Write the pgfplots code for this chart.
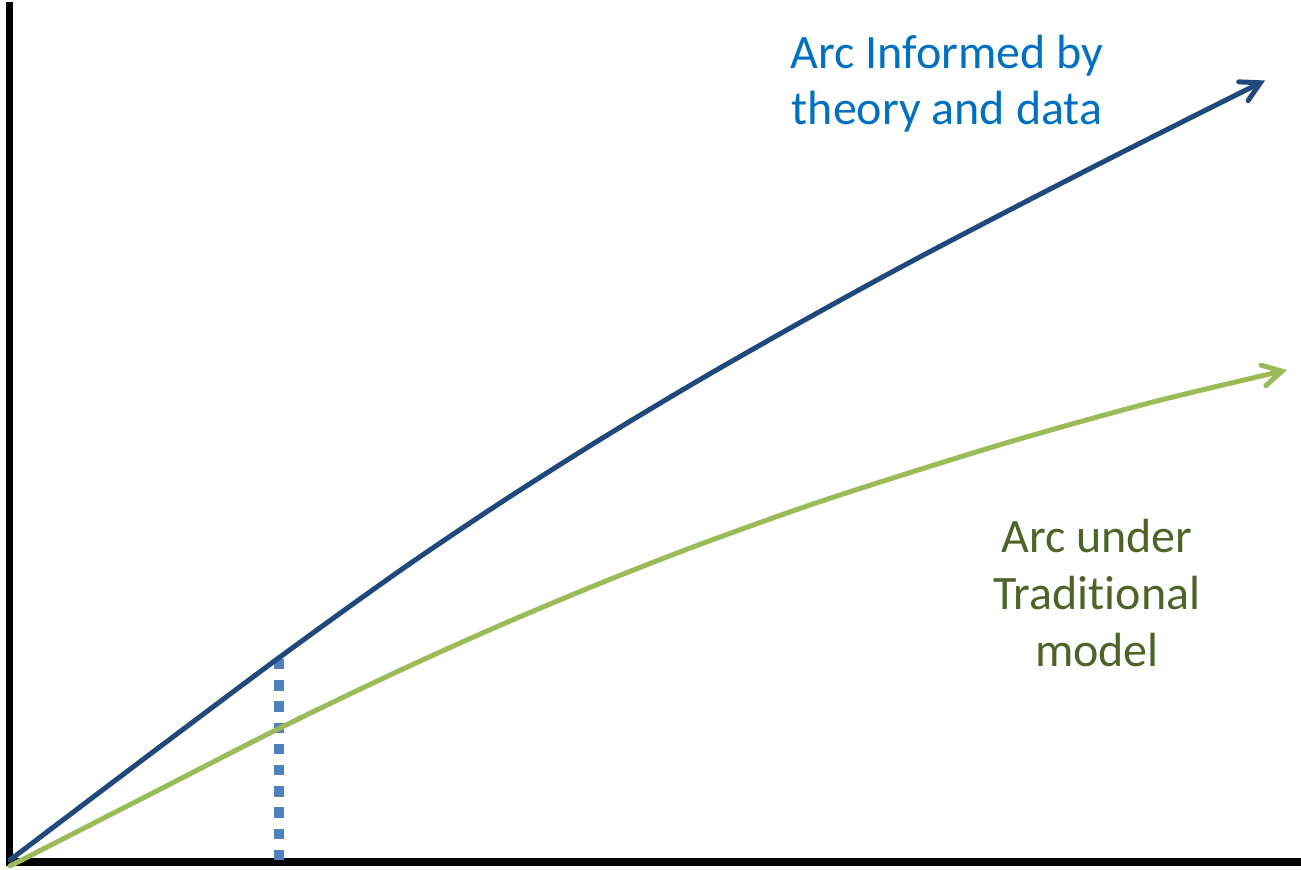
\documentclass[border=0pt]{standalone}
\usepackage{pgfplots}
\pgfplotsset{compat=1.18}
\usepackage{fontspec}
\setmainfont[Ligatures=NoCommon]{Carlito}
\usetikzlibrary{arrows.meta}
\definecolor{darkblue}{HTML}{1F497D}
\definecolor{lgreen}{HTML}{9BBB59}
\definecolor{dotblue}{HTML}{4F81BD}
\definecolor{txtblue}{HTML}{0070C0}
\definecolor{txtgreen}{HTML}{4F6228}
\begin{document}
\begin{tikzpicture}
\begin{axis}[
  scale only axis, width=650.5pt, height=435pt,
  xmin=0, xmax=1301, ymin=0, ymax=870,
  axis lines=none, ticks=none, clip=false,
]
% axes
\addplot[black, line width=3.5pt, line cap=butt] coordinates {(9.5,868) (9.5,4.5)};
\addplot[black, line width=4pt, line cap=butt] coordinates {(6,8) (1301,8)};
% dotted marker
\addplot[dotblue, line width=5pt, line cap=butt, dash pattern=on 5.2pt off 5.4pt] coordinates {(279,211) (279,4)};
% blue arc
\addplot[darkblue, line width=2.5pt, smooth, tension=0.5, line cap=round,
  -{Straight Barb[length=9.5pt, width=10.5pt, line width=2.5pt, line cap=round]}]
  coordinates {(10,10) (145,112) (280,213) (400,299.4) (500,366.9) (600,430.4) (700,490.4) (800,547.4) (900,602.4) (1000,655) (1100,706.5) (1200,757) (1265,789.5)};
% green arc
\addplot[lgreen, line width=2.5pt, smooth, tension=0.5, line cap=round,
  -{Straight Barb[length=9.5pt, width=10.5pt, line width=2.5pt, line cap=round]}]
  coordinates {(10,4) (145,73) (280,142) (400,199.6) (500,244.6) (600,286.6) (700,325.6) (827,370.7) (1000,425.2) (1150,467.2) (1287,500)};
\node[txtblue, align=center, anchor=base, font=\fontsize{24}{28}\selectfont] at (axis cs:947,745) {Arc Informed by\\theory and data};
\node[txtgreen, align=center, anchor=base, font=\fontsize{24}{28.7}\selectfont] at (axis cs:1097,203) {Arc under\\Traditional\\model};
\end{axis}
\pgfresetboundingbox
\useasboundingbox (current axis.south west) rectangle (current axis.north east);
\end{tikzpicture}
\end{document}
